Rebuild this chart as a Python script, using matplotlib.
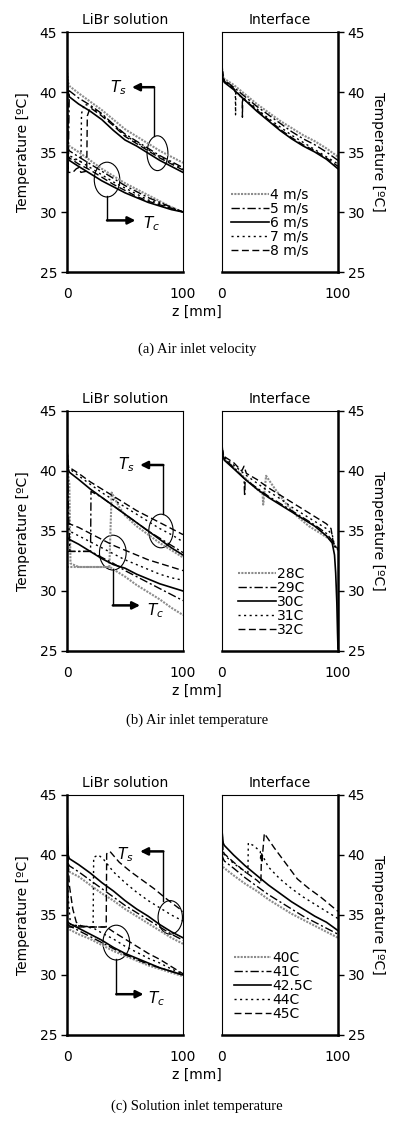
import matplotlib.pyplot as plt
from matplotlib.patches import Ellipse

# common z grid [mm] for the smooth curves
z = [0, 1, 2, 10, 20, 30, 40, 50, 60, 70, 80, 90, 100]

# ---------- (a) air inlet velocity ----------
a_labels = ['4 m/s', '5 m/s', '6 m/s', '7 m/s', '8 m/s']
a_ts_z = [z,
          [0, 0.5, 1, 2, 10, 20, 30, 40, 50, 60, 70, 80, 90, 100],
          z,
          [0, 0.5, 2, 12, 12.5, 15, 20, 30, 40, 50, 60, 70, 80, 90, 100],
          [0, 0.5, 1, 5, 8, 10, 12, 17, 17.5, 20, 30, 40, 50, 60, 70, 80, 90, 100]]
a_ts_T = [[41.9, 40.8, 40.5, 39.9, 39.2, 38.5, 37.7, 36.9, 36.3, 35.7, 35.1, 34.6, 34.1],
          [41.8, 40.3, 33.6, 40.1, 39.5, 38.9, 38.2, 37.3, 36.5, 35.9, 35.3, 34.7, 34.2, 33.7],
          [41.8, 40.0, 39.6, 39.0, 38.4, 37.7, 36.8, 36.0, 35.5, 34.9, 34.3, 33.8, 33.3],
          [41.5, 35.5, 34.5, 34.2, 38.2, 39.0, 38.8, 38.1, 37.3, 36.4, 35.8, 35.2, 34.6, 34.1, 33.6],
          [41.5, 35.0, 33.3, 33.3, 33.6, 33.7, 33.3, 33.4, 38.0, 38.7, 38.0, 37.2, 36.3, 35.7, 35.1, 34.5, 34.0, 33.5]]
a_tc_z = [z, z, z, z, z]
a_tc_T = [[35.8, 35.7, 35.5, 35.0, 34.3, 33.6, 33.0, 32.4, 31.9, 31.4, 30.9, 30.4, 30.0],
          [35.4, 35.3, 35.1, 34.6, 34.0, 33.4, 32.8, 32.2, 31.7, 31.2, 30.8, 30.4, 30.0],
          [34.6, 34.5, 34.3, 33.8, 33.2, 32.6, 32.1, 31.6, 31.2, 30.8, 30.5, 30.2, 30.0],
          [35.0, 34.9, 34.7, 34.3, 33.7, 33.1, 32.5, 32.0, 31.5, 31.0, 30.7, 30.3, 30.0],
          [34.8, 34.7, 34.5, 34.0, 33.5, 32.9, 32.3, 31.8, 31.3, 30.9, 30.6, 30.3, 30.0]]
a_if_z = [z, z, z,
          [0, 1, 2, 10, 11.5, 11.7, 11.9, 20, 30, 40, 50, 60, 70, 80, 90, 100],
          [0, 1, 2, 10, 17.5, 17.6, 17.8, 20, 30, 40, 50, 60, 70, 80, 90, 100]]
a_if_T = [[42.0, 41.3, 41.1, 40.6, 39.8, 39.0, 38.3, 37.6, 37.0, 36.4, 35.9, 35.3, 34.6],
          [42.0, 41.2, 41.0, 40.4, 39.6, 38.8, 38.1, 37.4, 36.7, 36.1, 35.6, 35.0, 34.3],
          [42.0, 41.0, 40.8, 40.2, 39.3, 38.4, 37.6, 36.8, 36.1, 35.5, 35.0, 34.4, 33.6],
          [42.0, 41.1, 40.9, 40.3, 40.0, 38.1, 39.9, 39.4, 38.6, 37.8, 37.1, 36.4, 35.8, 35.2, 34.6, 34.0],
          [42.0, 41.1, 40.9, 40.3, 39.5, 37.9, 39.4, 39.3, 38.5, 37.7, 36.9, 36.2, 35.6, 35.1, 34.5, 33.8]]

# ---------- (b) air inlet temperature ----------
b_labels = ['28C', '29C', '30C', '31C', '32C']
b_ts_z = [[0, 0.5, 2, 3, 10, 20, 30, 36.5, 38.5, 45, 50, 60, 70, 80, 90, 100],
          [0, 0.5, 1.5, 2.5, 20.3, 20.7, 30, 40, 50, 60, 70, 80, 90, 100],
          z, z, z]
b_ts_T = [[41.5, 40.0, 39.0, 32.3, 32.0, 32.0, 32.0, 32.0, 38.2, 37.0, 36.3, 35.4, 34.7, 34.0, 33.4, 32.8],
          [41.5, 39.8, 36.0, 33.3, 33.3, 38.3, 37.8, 37.1, 36.4, 35.7, 35.0, 34.4, 33.8, 33.2],
          [41.8, 40.2, 39.9, 39.3, 38.5, 37.8, 37.1, 36.4, 35.7, 35.0, 34.3, 33.6, 33.0],
          [41.8, 40.4, 40.2, 39.6, 38.9, 38.2, 37.6, 37.0, 36.4, 35.8, 35.2, 34.7, 34.1],
          [41.8, 40.5, 40.3, 39.8, 39.1, 38.5, 37.9, 37.3, 36.7, 36.2, 35.7, 35.2, 34.7]]
b_tc_z = [[0, 10, 20, 30, 37, 40, 50, 60, 70, 80, 90, 100],
          [0, 10, 20.5, 30, 40, 50, 60, 70, 80, 90, 100],
          z, z, z]
b_tc_T = [[32.0, 32.0, 32.0, 32.0, 32.0, 31.8, 31.2, 30.5, 29.9, 29.3, 28.6, 28.0],
          [33.3, 33.3, 33.3, 32.8, 32.3, 31.7, 31.2, 30.7, 30.2, 29.7, 29.2],
          [34.5, 34.4, 34.3, 33.9, 33.3, 32.7, 32.2, 31.9, 31.4, 31.0, 30.6, 30.3, 30.0],
          [35.2, 35.1, 35.0, 34.6, 34.1, 33.6, 33.1, 32.6, 32.2, 31.8, 31.4, 31.1, 30.9],
          [35.7, 35.7, 35.6, 35.3, 34.8, 34.3, 33.8, 33.4, 33.0, 32.6, 32.3, 32.0, 31.7]]
b_if_z = [[0, 1, 2, 10, 20, 30, 35, 35.5, 38, 45, 55, 65, 75, 85, 95, 97, 100],
          [0, 1, 2, 10, 19, 19.5, 20, 30, 40, 50, 60, 70, 80, 90, 95, 97, 100],
          [0, 1, 2, 10, 20, 30, 40, 50, 60, 70, 80, 90, 95, 97, 98, 99, 99.6, 100],
          [0, 1, 2, 10, 20, 30, 40, 50, 60, 70, 80, 90, 95, 97, 100],
          [0, 1, 2, 10, 17, 19, 21, 30, 40, 50, 60, 70, 80, 90, 94, 96, 100]]
b_if_T = [[42.0, 41.3, 41.0, 40.3, 39.4, 38.5, 38.1, 37.2, 39.6, 38.6, 37.3, 36.2, 35.4, 34.8, 34.2, 33.8, 33.5],
          [42.0, 41.2, 41.0, 40.3, 39.4, 37.9, 39.3, 38.6, 37.9, 37.3, 36.7, 36.1, 35.5, 34.8, 34.2, 33.7, 33.4],
          [42.0, 41.2, 40.9, 40.2, 39.3, 38.5, 37.8, 37.2, 36.6, 36.0, 35.4, 34.6, 34.0, 33.0, 31.5, 29.0, 26.5, 25.2],
          [42.0, 41.3, 41.1, 40.5, 39.7, 39.0, 38.3, 37.7, 37.0, 36.4, 35.8, 35.2, 34.7, 33.8, 33.4],
          [42.0, 41.4, 41.2, 40.7, 40.0, 40.4, 39.8, 39.3, 38.6, 38.0, 37.4, 36.8, 36.2, 35.6, 35.2, 34.0, 33.5]]

# ---------- (c) solution inlet temperature ----------
c_labels = ['40C', '41C', '42.5C', '44C', '45C']
c_ts_z = [z, z, z,
          [0, 0.5, 1, 3, 10, 22.5, 23, 27, 31, 40, 50, 60, 70, 80, 90, 100],
          [0, 0.5, 2, 5, 8, 12, 20, 30, 33.8, 34.2, 37, 45, 55, 65, 75, 85, 100]]
c_ts_T = [[40.0, 38.8, 38.6, 38.2, 37.5, 36.8, 36.2, 35.5, 34.9, 34.3, 33.7, 33.1, 32.6],
          [42.0, 39.3, 39.1, 38.6, 37.9, 37.2, 36.5, 35.8, 35.2, 34.6, 34.0, 33.4, 32.9],
          [43.0, 40.0, 39.7, 39.2, 38.5, 37.7, 37.0, 36.2, 35.5, 34.9, 34.2, 33.6, 33.1],
          [44.0, 40.0, 36.5, 34.2, 34.1, 34.0, 39.8, 40.0, 39.7, 38.6, 37.7, 36.9, 36.2, 35.6, 35.0, 34.5],
          [43.5, 40.5, 37.5, 35.5, 34.4, 34.1, 34.0, 34.0, 34.0, 40.1, 40.3, 39.4, 38.6, 37.9, 37.2, 36.4, 35.3]]
c_tc_z = [z, z, z,
          [0, 10, 23, 30, 40, 50, 60, 70, 80, 90, 100],
          [0, 10, 20, 34, 40, 50, 60, 70, 80, 90, 100]]
c_tc_T = [[34.0, 33.9, 33.8, 33.4, 33.0, 32.5, 32.0, 31.6, 31.2, 30.8, 30.5, 30.2, 29.9],
          [34.3, 34.2, 34.1, 33.7, 33.2, 32.7, 32.2, 31.7, 31.3, 30.9, 30.6, 30.3, 30.0],
          [34.5, 34.4, 34.3, 33.9, 33.4, 32.9, 32.3, 31.8, 31.4, 31.0, 30.6, 30.3, 30.0],
          [34.2, 34.1, 33.9, 33.5, 33.0, 32.4, 31.9, 31.4, 31.0, 30.5, 30.1],
          [34.0, 34.0, 34.0, 34.0, 33.6, 33.0, 32.4, 31.8, 31.3, 30.7, 30.1]]
c_if_z = [z, z, z,
          [0, 1, 2, 10, 20, 22.3, 22.7, 27, 33, 33.3, 33.6, 40, 50, 60, 70, 80, 90, 100],
          [0, 1, 2, 10, 20, 30, 33.5, 34, 34.5, 36.5, 45, 55, 65, 75, 85, 95, 100]]
c_if_T = [[39.3, 39.0, 38.9, 38.3, 37.6, 37.0, 36.3, 35.7, 35.1, 34.6, 34.1, 33.6, 33.1],
          [40.0, 39.7, 39.5, 38.9, 38.1, 37.4, 36.7, 36.1, 35.5, 34.9, 34.4, 33.9, 33.4],
          [42.0, 41.0, 40.8, 40.0, 39.1, 38.3, 37.5, 36.8, 36.1, 35.5, 34.9, 34.4, 33.7],
          [41.5, 40.2, 40.0, 39.3, 38.6, 38.4, 41.0, 40.8, 40.3, 39.6, 40.2, 39.0, 38.0, 37.2, 36.5, 35.9, 35.3, 34.7],
          [42.0, 40.3, 40.1, 39.4, 38.6, 37.9, 37.6, 40.0, 39.5, 41.8, 40.6, 39.3, 38.0, 37.2, 36.5, 35.7, 35.3]]

styles = [dict(color='0.55', lw=1.5, ls=(0, (1, 0.6))),
          dict(color='k', lw=1.0, ls=(0, (6, 2, 1.5, 2))),
          dict(color='k', lw=1.2, ls='-'),
          dict(color='k', lw=1.0, ls=(0, (1.5, 2.5))),
          dict(color='k', lw=1.0, ls=(0, (5, 2.5)))]

W, H = 395, 1129
fig = plt.figure(figsize=(W / 100, H / 100), dpi=100)
plt.rcParams['font.family'] = 'DejaVu Sans'


def style_axes(ax, side):
    ax.set_xlim(0, 100)
    ax.set_ylim(25, 45)
    ax.set_xticks([0, 100])
    ax.set_yticks([25, 30, 35, 40, 45])
    ax.tick_params(axis='x', length=0, pad=11, labelsize=10)
    ax.tick_params(axis='y', length=4, width=1, pad=3, labelsize=10)
    for s in ax.spines.values():
        s.set_linewidth(0.8)
    ax.spines['bottom'].set_linewidth(1.8)
    ax.spines[side].set_linewidth(1.8)
    if side == 'right':
        ax.yaxis.tick_right()
        ax.yaxis.set_label_position('right')
        ax.set_ylabel('Temperature [ºC]', fontsize=10, rotation=270, labelpad=14)
    else:
        ax.set_ylabel('Temperature [ºC]', fontsize=10, labelpad=7)


def draw_row(top, labels, ts_z, ts_T, tc_z, tc_T, if_z, if_T, caption, cap_y, ann, leg_x):
    bottom = 1 - (top + 240) / H
    axl = fig.add_axes([67 / W, bottom, 116 / W, 240 / H])
    axr = fig.add_axes([222 / W, bottom, 116 / W, 240 / H])
    for i in range(5):
        axl.plot(tc_z[i], tc_T[i], **styles[i])
        axl.plot(ts_z[i], ts_T[i], **styles[i])
        axr.plot(if_z[i], if_T[i], label=labels[i], **styles[i])
    style_axes(axl, 'left')
    style_axes(axr, 'right')
    axl.set_title('LiBr solution', fontsize=10, pad=6)
    axr.set_title('Interface', fontsize=10, pad=6)

    # T_s / T_c annotations
    for (ex, ey, w, h, vx, y0, y1, hx, tx, ty, txt) in ann:
        axl.add_patch(Ellipse((ex, ey), w, h, fill=False, ec='k', lw=0.8))
        axl.plot([vx, vx], [y0, y1], color='k', lw=1.0)
        axl.annotate('', xy=(hx, y1), xytext=(vx, y1),
                     arrowprops=dict(arrowstyle='-|>', color='k', lw=1.8,
                                     mutation_scale=11, shrinkA=0, shrinkB=0))
        axl.text(tx, ty, txt, fontsize=11, ha='center', va='center')

    axr.legend(loc='lower left', bbox_to_anchor=(leg_x, 0.06), frameon=False,
               fontsize=10, handlelength=2.7, handletextpad=0.1,
               labelspacing=0.0, borderpad=0, borderaxespad=0)

    fig.text(197 / W, 1 - (top + 280) / H, 'z [mm]', fontsize=10,
             ha='center', va='center')
    fig.text(197 / W, 1 - cap_y / H, caption, fontsize=10.5,
             family='Liberation Serif', ha='center', va='center')


draw_row(32, a_labels, a_ts_z, a_ts_T, a_tc_z, a_tc_T, a_if_z, a_if_T,
         '(a) Air inlet velocity', 349,
         ((78, 34.9, 18, 2.9, 75, 36.3, 40.4, 56, 44, 40.4, '$T_s$'),
          (34.5, 32.7, 22, 2.9, 34.5, 31.3, 29.3, 59, 73, 29.0, '$T_c$')),
         0.08)
draw_row(411, b_labels, b_ts_z, b_ts_T, b_tc_z, b_tc_T, b_if_z, b_if_T,
         '(b) Air inlet temperature', 720,
         ((81, 35.0, 21, 2.8, 83, 36.4, 40.5, 63, 51, 40.5, '$T_s$'),
          (39.5, 33.2, 23, 2.9, 39.5, 31.8, 28.8, 63, 76, 28.4, '$T_c$')),
         0.14)
draw_row(795, c_labels, c_ts_z, c_ts_T, c_tc_z, c_tc_T, c_if_z, c_if_T,
         '(c) Solution inlet temperature', 1106,
         ((89, 34.8, 21, 2.8, 83, 36.2, 40.3, 63, 50, 40.0, '$T_s$'),
          (42.5, 32.7, 23, 2.9, 42.5, 31.3, 28.4, 66, 77, 28.0, '$T_c$')),
         0.10)

fig.savefig('out.png', dpi=100)
